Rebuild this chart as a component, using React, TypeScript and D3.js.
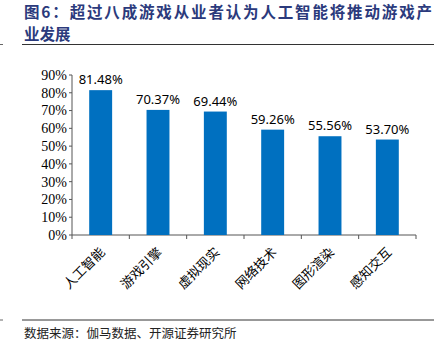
import * as d3 from "d3";

const categories = ["人工智能", "游戏引擎", "虚拟现实", "网络技术", "图形渲染", "感知交互"];
const values = [81.48, 70.37, 69.44, 59.26, 55.56, 53.7];
const yTicks = [0, 10, 20, 30, 40, 50, 60, 70, 80, 90];

const W = 441;
const H = 352;
const m = { left: 72, right: 25, top: 75, bottom: 117 };

export default function App() {
  const x = d3
    .scaleBand()
    .domain(categories)
    .range([m.left, W - m.right])
    .paddingInner(0.6)
    .paddingOuter(0.3);
  const y = d3.scaleLinear().domain([0, 90]).range([H - m.bottom, m.top]);
  const step = x.step();
  const x0 = m.left;
  const x1 = W - m.right;
  const y0 = y(0);

  return (
    <svg
      width={W}
      height={H}
      style={{ position: "absolute", left: 0, top: 0, background: "#fff" }}
    >
      <text
        x={24}
        y={18}
        fontFamily="Noto Sans CJK SC"
        fontWeight="bold"
        fontSize={15.5}
        fill="#2b3a7c"
        textLength={408}
      >
        图6：超过八成游戏从业者认为人工智能将推动游戏产
      </text>
      <text
        x={24}
        y={40}
        fontFamily="Noto Sans CJK SC"
        fontWeight="bold"
        fontSize={15.5}
        fill="#2b3a7c"
      >
        业发展
      </text>
      <line x1={22} x2={434} y1={44.5} y2={44.5} stroke="#333" strokeWidth={1} />
      <line x1={0} x2={3} y1={44.5} y2={44.5} stroke="#666" strokeWidth={1} />

      {/* y axis */}
      <line x1={x0} x2={x0} y1={y(90)} y2={y0} stroke="#555" />
      {yTicks.map((t) => (
        <g key={t}>
          <line x1={x0 - 3} x2={x0} y1={y(t)} y2={y(t)} stroke="#555" />
          <text
            x={x0 - 5}
            y={y(t)}
            dy="0.35em"
            textAnchor="end"
            fontFamily="Liberation Serif"
            fontSize={14}
            fill="#000"
          >
            {t}%
          </text>
        </g>
      ))}

      {/* x axis */}
      <line x1={x0} x2={x1} y1={y0} y2={y0} stroke="#555" />
      {d3.range(categories.length + 1).map((i) => (
        <line
          key={i}
          x1={x0 + i * step}
          x2={x0 + i * step}
          y1={y0}
          y2={y0 + 4}
          stroke="#555"
        />
      ))}

      {categories.map((c, i) => {
        const cx = (x(c) ?? 0) + x.bandwidth() / 2;
        return (
          <g key={c}>
            <rect
              x={x(c)}
              y={y(values[i])}
              width={x.bandwidth()}
              height={y0 - y(values[i])}
              fill="#0070c0"
            />
            <text
              x={cx}
              y={y(values[i]) - 6}
              textAnchor="middle"
              fontFamily="Noto Sans"
              fontSize={13}
              fill="#000"
            >
              {values[i].toFixed(2)}%
            </text>
            <text
              transform={`translate(${cx + 5},${y0 + 18}) rotate(-45)`}
              textAnchor="end"
              fontFamily="Noto Sans CJK SC"
              fontSize={13}
              fill="#000"
            >
              {c}
            </text>
          </g>
        );
      })}

      <line x1={22} x2={434} y1={320} y2={320} stroke="#333" strokeWidth={1} />
      <line x1={0} x2={3} y1={320} y2={320} stroke="#666" strokeWidth={1} />
      <text
        x={24}
        y={338}
        fontFamily="Noto Sans CJK SC"
        fontSize={12.5}
        fill="#222"
      >
        数据来源：伽马数据、开源证券研究所
      </text>
    </svg>
  );
}
